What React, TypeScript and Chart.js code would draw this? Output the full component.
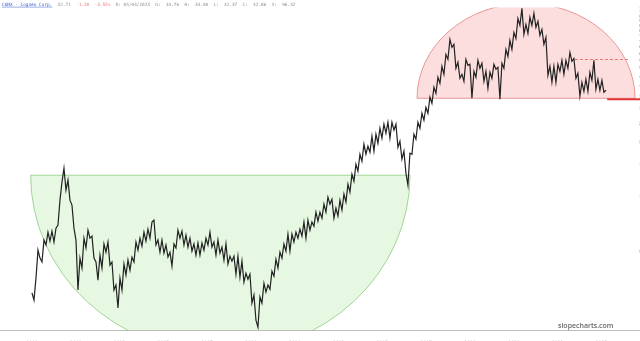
import React, { useEffect, useRef } from "react";
import { Chart, registerables } from "chart.js";

Chart.register(...registerables);

// ---- data ----
const FIRST_YEAR = 1999;
const SAMPLE_STEP_YEARS = 0.0913;
const closePrices = [
  3.01, 2.75, 3.62, 5.14, 4.65, 4.43, 5.83, 5.48, 6.44, 5.76,
  6.52, 5.69, 6.77, 7.03, 9.61, 12.04, 14.33, 10.89, 12.34, 9.61,
  9.03, 6.77, 5.83, 3.12, 4.65, 4.11, 5.97, 5.28, 6.6, 5.97,
  6.12, 4.65, 4.43, 3.53, 4.83, 4.11, 5.55, 5.01, 5.69, 4.26,
  4.43, 3.12, 3.32, 2.49, 3.62, 3.12, 4.32, 3.76, 4.54, 4.0,
  4.71, 4.43, 5.69, 5.14, 5.97, 5.41, 6.44, 5.76, 6.68, 5.97,
  7.3, 7.48, 5.48, 5.83, 5.01, 5.83, 4.95, 5.48, 4.71, 5.01,
  4.21, 5.55, 5.28, 6.6, 5.97, 6.52, 5.48, 6.2, 5.34, 5.97,
  5.08, 5.55, 4.83, 5.62, 4.83, 5.62, 5.14, 5.97, 5.48, 6.44,
  5.34, 5.69, 4.83, 5.83, 4.95, 5.34, 4.54, 5.55, 4.32, 4.77,
  4.48, 4.77, 3.8, 4.77, 3.66, 4.48, 3.44, 3.85, 3.57, 3.8,
  2.65, 2.93, 2.14, 1.96, 2.86, 2.65, 3.4, 3.04, 3.32, 3.15,
  3.95, 3.71, 4.59, 4.11, 5.01, 4.65, 5.55, 5.08, 6.28, 5.08,
  6.28, 5.69, 6.44, 5.97, 6.68, 6.12, 7.3, 5.97, 7.48, 6.6,
  7.3, 6.94, 8.27, 7.39, 8.27, 7.67, 9.14, 8.27, 9.98, 9.14,
  9.73, 7.67, 8.7, 7.87, 9.61, 8.48, 10.36, 9.37, 11.74, 10.62,
  13.3, 12.19, 15.07, 13.81, 17.07, 15.64, 19.35, 17.07, 18.87, 17.51,
  21.38, 17.73, 21.93, 19.59, 23.63, 20.86, 24.85, 22.2, 25.48, 20.86,
  25.48, 23.05, 24.85, 18.64, 20.09, 16.04, 17.73, 13.47, 11.59, 17.29,
  17.07, 21.93, 20.6, 25.48, 23.63, 28.5, 26.12, 30.72, 28.5, 34.81,
  32.3, 39.45, 36.6, 44.71, 41.48, 51.3, 46.42, 59.55, 55.94, 71.84,
  65.05, 67.54, 50.04, 53.94, 44.15, 46.42, 42.52, 55.94, 51.95, 52.6,
  34.38, 48.19, 44.71, 55.3, 50.04, 53.27, 42.52, 48.19, 38.96, 47.6,
  44.15, 52.6, 49.41, 50.66, 33.96, 53.27, 50.04, 63.44, 58.08, 71.0,
  63.44, 78.42, 72.75, 93.47, 85.58, 105.9, 76.48, 86.65, 77.44, 94.64,
  85.58, 99.5, 83.46, 89.97, 75.53, 81.4, 67.54, 73.66, 45.84, 51.3,
  42.0, 51.3, 42.0, 52.6, 48.19, 55.3, 46.42, 55.3, 50.04, 61.06,
  54.61, 56.64, 44.15, 47.0, 35.25, 42.0, 37.53, 43.61, 37.53, 47.6,
  43.06, 55.3, 38.48, 43.61, 38.0, 43.06, 37.06, 38.0,
];

const xTickYears = [1999, 2001, 2003, 2005, 2007, 2009, 2011, 2013, 2015, 2017, 2019, 2021, 2023, 2025];
const yTickValues = [5, 10, 15, 20, 25, 30, 35, 40, 45, 50, 55, 60, 65, 70, 75, 80, 85, 90, 95, 100, 105];
const X_MIN = 1997.54;
const X_MAX = 2026.12;
const Y_MIN = 1.892;
const Y_MAX = 107.2;

// bowl (green, below rim) and dome (red, above rim)
const arcStartYears = [1998.94, 2016.58];
const arcEndYears = [2016.26, 2026.53];
const arcRimLevels = [13.13, 34.38];
const arcExtremeLevels = [1.42, 112.7];

const resistanceLevel = 56.0;
const resistanceStartYear = 2023.79;
const resistanceEndYear = 2026.21;
const supportLevel = 33.96;
const supportStartYear = 2025.26;

const headerTexts = [
  "CGNX - Cognex Corp.",
  "  32.71",
  "  -1.20  -3.55%",
  "  D: 05/04/2025  O:  33.76  H:  34.00  L:  32.37  C:  32.86  V:  96.42",
];
const watermarkText = "slopecharts.com";

// ---- styles ----
const headerColors = ["#2f5bc9", "#8d8d8d", "#e07878", "#8d8d8d"];
const arcFills = ["rgb(230,248,226)", "rgb(252,222,222)"];
const arcStrokes = ["rgb(160,214,150)", "rgb(232,150,150)"];

const overlayPlugin = {
  id: "overlay",
  beforeDatasetsDraw(chart: any) {
    const { ctx, chartArea, scales } = chart;
    const x = scales.x;
    const y = scales.y;
    ctx.save();
    ctx.beginPath();
    ctx.rect(0, chartArea.top, chart.width, chartArea.bottom - chartArea.top);
    ctx.clip();
    for (let i = 0; i < arcStartYears.length; i++) {
      const x0 = x.getPixelForValue(arcStartYears[i]);
      const x1 = x.getPixelForValue(arcEndYears[i]);
      const cy = y.getPixelForValue(arcRimLevels[i]);
      const ey = y.getPixelForValue(arcExtremeLevels[i]);
      const cx = (x0 + x1) / 2;
      const rx = Math.abs(x1 - x0) / 2;
      const ry = Math.abs(ey - cy);
      ctx.beginPath();
      if (ey > cy) ctx.ellipse(cx, cy, rx, ry, 0, 0, Math.PI, false);
      else ctx.ellipse(cx, cy, rx, ry, 0, Math.PI, 2 * Math.PI, false);
      ctx.closePath();
      ctx.fillStyle = arcFills[i];
      ctx.fill();
      ctx.lineWidth = 1;
      ctx.strokeStyle = arcStrokes[i];
      ctx.stroke();
    }
    ctx.restore();
  },
  afterDatasetsDraw(chart: any) {
    const { ctx, chartArea, scales } = chart;
    const x = scales.x;
    const y = scales.y;
    ctx.save();
    const ry = Math.round(y.getPixelForValue(resistanceLevel)) + 0.5;
    ctx.beginPath();
    ctx.setLineDash([3, 2]);
    ctx.strokeStyle = "rgb(226,120,120)";
    ctx.lineWidth = 1;
    ctx.moveTo(x.getPixelForValue(resistanceStartYear), ry);
    ctx.lineTo(x.getPixelForValue(resistanceEndYear), ry);
    ctx.stroke();
    ctx.setLineDash([]);
    const sy = y.getPixelForValue(supportLevel);
    ctx.beginPath();
    ctx.strokeStyle = "rgb(228,52,52)";
    ctx.lineWidth = 2;
    ctx.moveTo(x.getPixelForValue(supportStartYear), sy);
    ctx.lineTo(chart.width, sy);
    ctx.stroke();
    ctx.beginPath();
    ctx.strokeStyle = "#bdbdbd";
    ctx.lineWidth = 1;
    ctx.moveTo(0, chartArea.bottom + 0.5);
    ctx.lineTo(chart.width, chartArea.bottom + 0.5);
    ctx.stroke();
    ctx.font = "600 7px 'Open Sans', sans-serif";
    ctx.fillStyle = "#666";
    ctx.textBaseline = "middle";
    ctx.textAlign = "left";
    ctx.fillText(watermarkText, 558, 326);
    ctx.font = "4.4px 'DejaVu Sans Mono', monospace";
    let hx = 2;
    const hy = 4.5;
    headerTexts.forEach((t, i) => {
      ctx.fillStyle = headerColors[i];
      ctx.fillText(t, hx, hy);
      const w = ctx.measureText(t).width;
      if (i === 0) {
        ctx.beginPath();
        ctx.strokeStyle = headerColors[i];
        ctx.lineWidth = 0.5;
        ctx.moveTo(hx, hy + 2.6);
        ctx.lineTo(hx + w, hy + 2.6);
        ctx.stroke();
      }
      hx += w;
    });
    ctx.restore();
  },
};

export default function App() {
  const ref = useRef<HTMLCanvasElement>(null);
  useEffect(() => {
    if (!ref.current) return;
    const points = closePrices.map((v, i) => ({ x: FIRST_YEAR + i * SAMPLE_STEP_YEARS, y: v }));
    const chart = new Chart(ref.current, {
      type: "line",
      data: {
        datasets: [
          {
            data: points,
            borderColor: "#222",
            borderWidth: 1.2,
            pointRadius: 0,
            tension: 0,
            fill: false,
          },
        ],
      },
      options: {
        animation: false,
        responsive: false,
        devicePixelRatio: 1,
        events: [],
        layout: { padding: { top: 7, left: 0, right: 0, bottom: 0 } },
        plugins: { legend: { display: false }, tooltip: { enabled: false } },
        scales: {
          x: {
            type: "linear",
            position: "bottom",
            min: X_MIN,
            max: X_MAX,
            grid: { display: false },
            border: { display: false },
            ticks: {
              autoSkip: false,
              maxRotation: 0,
              padding: 2,
              color: "#8a8a8a",
              font: { size: 4.5, family: "DejaVu Sans" },
              callback: (v: any) => String(v),
            },
            afterBuildTicks: (s: any) => {
              s.ticks = xTickYears.map((v) => ({ value: v }));
            },
            afterFit: (s: any) => {
              s.height = 11;
            },
          },
          y: {
            type: "logarithmic",
            position: "right",
            min: Y_MIN,
            max: Y_MAX,
            grid: { display: false },
            border: { display: false },
            ticks: {
              autoSkip: false,
              padding: 5,
              color: "#8a8a8a",
              font: { size: 4, family: "DejaVu Sans" },
              callback: (v: any) => String(v),
            },
            afterBuildTicks: (s: any) => {
              s.ticks = yTickValues.map((v) => ({ value: v }));
            },
            afterFit: (s: any) => {
              s.width = 14;
            },
          },
        },
      },
      plugins: [overlayPlugin],
    } as any);
    return () => chart.destroy();
  }, []);
  return (
    <div style={{ position: "fixed", left: 0, top: 0, width: 640, height: 341, background: "#fff" }}>
      <canvas ref={ref} width={640} height={341} style={{ display: "block", width: 640, height: 341 }} />
    </div>
  );
}
